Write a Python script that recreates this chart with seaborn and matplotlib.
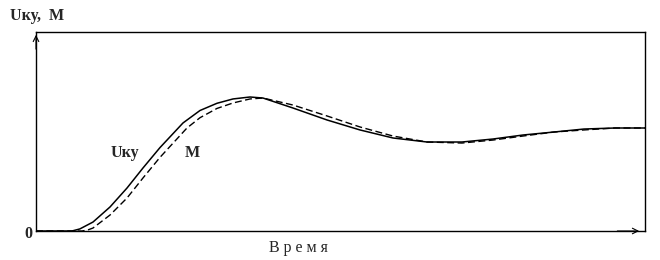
import matplotlib
matplotlib.use("Agg")
import matplotlib.pyplot as plt
import seaborn as sns
import pandas as pd

t = [0, 5.91, 7.2, 9.36, 12.15, 14.94, 17.57, 20.36, 24.14, 26.93, 29.72,
     32.35, 35.14, 37.27, 42.20, 47.78, 53.20, 58.62, 64.20, 69.95, 75.04,
     79.97, 85.06, 89.98, 95.07, 100]
u_ky = [0, 0, 0.02, 0.087, 0.233, 0.417, 0.612, 0.810, 1.049, 1.170, 1.240,
        1.282, 1.301, 1.291, 1.194, 1.078, 0.981, 0.903, 0.864, 0.864, 0.893,
        0.932, 0.961, 0.990, 1.0, 1.0]
t_m = [0, 7.55, 8.5, 9.36, 12.15, 14.94, 17.57, 20.36, 24.79, 26.93, 29.72,
       32.35, 35.14, 37.27, 42.20, 47.78, 53.20, 58.62, 64.20, 69.95, 75.04,
       79.97, 85.06, 89.98, 95.07, 100]
m = [0, 0, 0.01, 0.029, 0.155, 0.320, 0.515, 0.715, 1.000, 1.100, 1.190,
     1.243, 1.282, 1.291, 1.223, 1.117, 1.010, 0.922, 0.864, 0.854, 0.883,
     0.922, 0.961, 0.981, 1.0, 1.0]

sns.set_style("white")
plt.rcParams['font.family'] = ['Liberation Serif', 'DejaVu Serif']

fig = plt.figure(figsize=(6.6, 2.6), dpi=100)
ax = fig.add_axes([36/660, 29/260, 609/660, 199/260])

df1 = pd.DataFrame({"t": t, "v": u_ky})
df2 = pd.DataFrame({"t": t_m, "v": m})
sns.lineplot(data=df1, x="t", y="v", ax=ax, color="black", lw=1.1)
sns.lineplot(data=df2, x="t", y="v", ax=ax, color="black", lw=1.0,
             linestyle=(0, (5, 2.5)))

ax.set_xlim(0, 100)
ax.set_ylim(0, 199/103)
ax.set_xticks([])
ax.set_yticks([])
ax.set_xlabel("")
ax.set_ylabel("")
for s in ax.spines.values():
    s.set_color("black")
    s.set_linewidth(1.0)

ax.annotate('', xy=(0, 1.0), xytext=(0, 0.9), xycoords='axes fraction',
            arrowprops=dict(arrowstyle='->', lw=0.8, color='black',
                            mutation_scale=10))
ax.annotate('', xy=(0.995, 0), xytext=(0.95, 0), xycoords='axes fraction',
            arrowprops=dict(arrowstyle='->', lw=0.8, color='black',
                            mutation_scale=10))

fig.text(10/660, 1 - 16/260, "Uку,  М", fontsize=11.5, fontweight='bold',
         va='center', ha='left')
fig.text(24/660, 1 - 234/260, "0", fontsize=11.5, fontweight='bold',
         va='center', ha='left')
fig.text(298/660, 1 - 248/260, "В р е м я", fontsize=11.5, va='center',
         ha='center')
ax.text(12.3, (231-153)/103, "Uку", fontsize=11.5, fontweight='bold',
        va='center', ha='left')
ax.text(24.5, (231-153)/103, "М", fontsize=11.5, fontweight='bold',
        va='center', ha='left')

fig.savefig("out.png", dpi=100)
